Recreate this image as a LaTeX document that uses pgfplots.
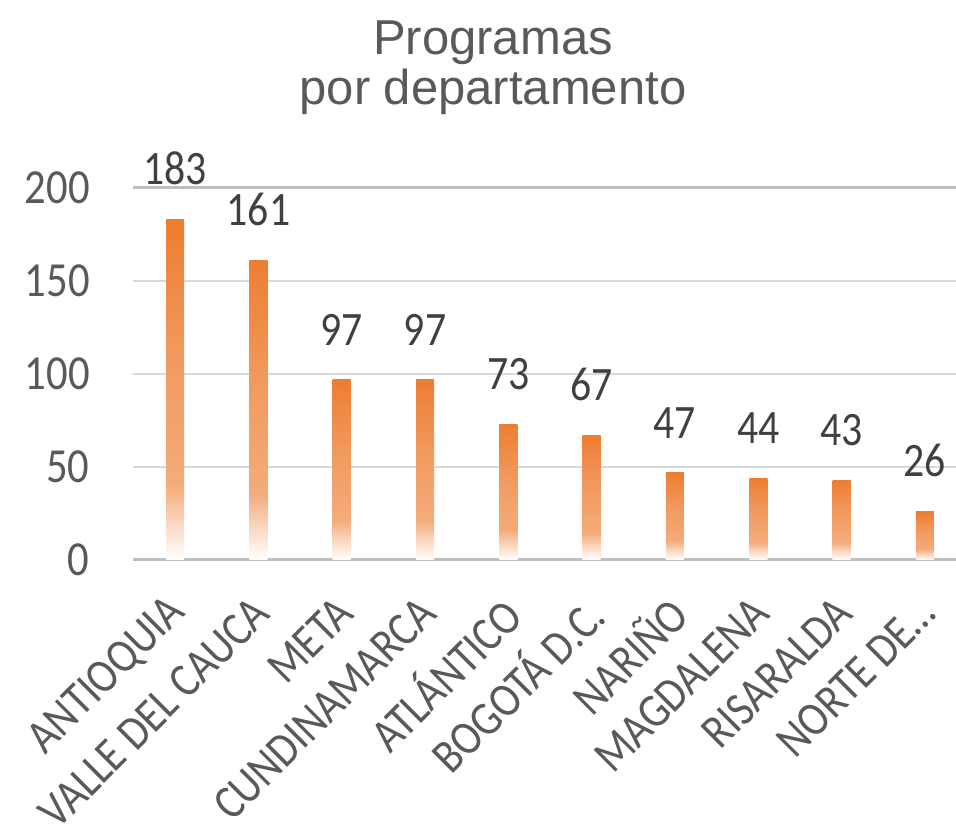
\documentclass[border=0pt]{standalone}
\usepackage{fontspec}
\setmainfont{Carlito}[FakeStretch=0.87]
\newfontfamily\titlefont{Liberation Sans}
\usepackage{pgfplots}
\pgfplotsset{compat=1.18}
\definecolor{obar}{HTML}{ED7D31}
\definecolor{txt}{HTML}{595959}
\definecolor{dlab}{HTML}{404040}
\definecolor{gridc}{HTML}{D9D9D9}
\definecolor{gridd}{HTML}{BFBFBF}
\colorlet{oA}{obar!28!white}
\colorlet{oB}{obar!64!white}
\colorlet{oC}{obar!78!white}
\pgfdeclareverticalshading{barfade}{100bp}{color(0bp)=(white); color(25bp)=(white); color(30bp)=(oA); color(36bp)=(oB); color(55bp)=(oC); color(75bp)=(obar); color(100bp)=(obar)}
\pgfplotsset{barst/.style={draw=none, shade, shading=barfade}}
\begin{document}
\begin{tikzpicture}
\begin{axis}[name=ax, scale only axis, width=416.5pt, height=186pt,
  xmin=-0.5, xmax=9.5, ymin=0, ymax=200,
  ytick={50,100,150}, extra y ticks={0,200},
  extra y tick style={grid style={color=gridd, line width=1.5pt}},
  ymajorgrids, grid style={color=gridc, line width=1.2pt},
  axis line style={draw=none}, tick style={draw=none}, major tick length=0pt,
  xtick={0,...,9},
  xticklabels={ANTIOQUIA, VALLE DEL CAUCA, META, CUNDINAMARCA, ATLÁNTICO, BOGOTÁ D.C., NARIÑO, MAGDALENA, RISARALDA, NORTE DE…},
  x tick label style={rotate=45, anchor=east, font=\fontsize{24}{26}\selectfont, text=txt, inner sep=0pt, yshift=-17pt, xshift=-15pt},
  y tick label style={font=\fontsize{24.5}{26}\selectfont, text=txt, inner sep=0pt, anchor=east},
  yticklabel shift=21.75pt,
  /pgf/number format/assume math mode=true,
  ybar, bar width=9pt, bar shift=0pt,
  nodes near coords,
  nodes near coords style={font=\fontsize{24}{26}\selectfont, text=dlab, anchor=south, inner sep=0pt, yshift=17pt},
  clip=false]
\addplot[barst] coordinates {(0,183)};
\addplot[barst] coordinates {(1,161)};
\addplot[barst] coordinates {(2,97)};
\addplot[barst] coordinates {(3,97)};
\addplot[barst] coordinates {(4,73)};
\addplot[barst] coordinates {(5,67)};
\addplot[barst] coordinates {(6,47)};
\addplot[barst] coordinates {(7,44)};
\addplot[barst] coordinates {(8,43)};
\addplot[barst] coordinates {(9,26)};
\end{axis}
\node[anchor=base, text=txt, font=\titlefont\fontsize{24.5}{28}\selectfont] at ([xshift=179.75pt, yshift=252.5pt]ax.south west) {Programas};
\node[anchor=base, text=txt, font=\titlefont\fontsize{24.5}{28}\selectfont] at ([xshift=179.75pt, yshift=227.5pt]ax.south west) {por departamento};
\pgfresetboundingbox
\path ([xshift=-66.75pt, yshift=-139.5pt]ax.south west) rectangle ([xshift=-5.25pt, yshift=94pt]ax.north east);
\end{tikzpicture}
\end{document}
